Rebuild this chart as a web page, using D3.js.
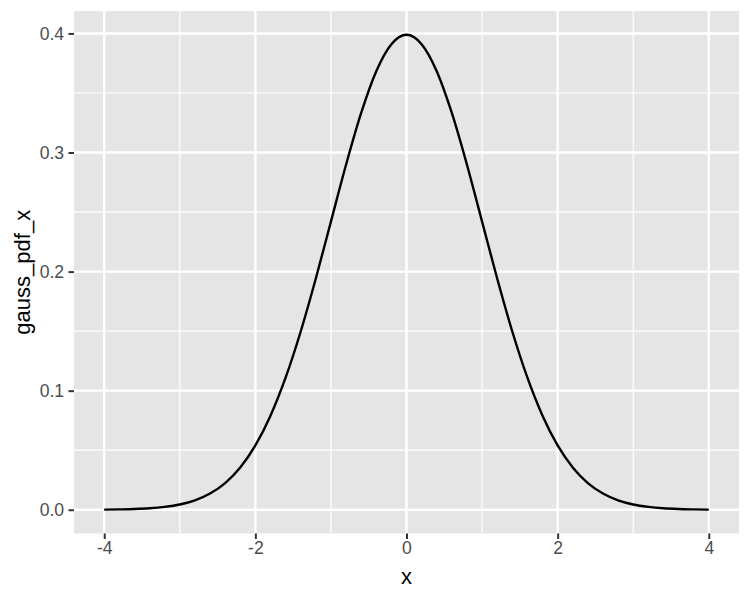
<!DOCTYPE html>
<html>
<head>
<meta charset="utf-8">
<script src="https://cdn.jsdelivr.net/npm/d3@7"></script>
<style>
  body { margin: 0; background: #fff; }
  text { font-family: "Liberation Sans", Arial, Helvetica, sans-serif; }
</style>
</head>
<body>
<svg id="chart"></svg>
<script>
// x positions and density values
const xValues = [-4.0, -3.8, -3.6, -3.4, -3.2, -3.0, -2.8, -2.6, -2.4, -2.2,
  -2.0, -1.8, -1.6, -1.4, -1.2, -1.0, -0.8, -0.6, -0.4, -0.2,
  0.0, 0.2, 0.4, 0.6, 0.8, 1.0, 1.2, 1.4, 1.6, 1.8,
  2.0, 2.2, 2.4, 2.6, 2.8, 3.0, 3.2, 3.4, 3.6, 3.8, 4.0];
const pdfValues = [0.0001, 0.0003, 0.0006, 0.0012, 0.0024, 0.0044, 0.0079, 0.0136, 0.0224, 0.0355,
  0.0540, 0.0790, 0.1109, 0.1497, 0.1942, 0.2420, 0.2897, 0.3332, 0.3683, 0.3910,
  0.3989, 0.3910, 0.3683, 0.3332, 0.2897, 0.2420, 0.1942, 0.1497, 0.1109, 0.0790,
  0.0540, 0.0355, 0.0224, 0.0136, 0.0079, 0.0044, 0.0024, 0.0012, 0.0006, 0.0003, 0.0001];
const xTicks = [-4, -2, 0, 2, 4];
const xMinor = [-3, -1, 1, 3];
const yTicks = [0.0, 0.1, 0.2, 0.3, 0.4];
const yMinor = [0.05, 0.15, 0.25, 0.35];

const data = xValues.map((x, i) => ({ x: x, y: pdfValues[i] }));

const width = 750, height = 600;
const margin = { top: 11, right: 11, bottom: 66.5, left: 74 };
const innerW = width - margin.left - margin.right,
  innerH = height - margin.top - margin.bottom;

const svg = d3.select('#chart').attr('width', width).attr('height', height);

// 5% expansion on both axes, like ggplot
const xExt = d3.extent(xValues), yExt = [0, d3.max(pdfValues)];
const xPad = (xExt[1] - xExt[0]) * 0.05, yPad = (yExt[1] - yExt[0]) * 0.05;
const x = d3.scaleLinear().domain([xExt[0] - xPad, xExt[1] + xPad]).range([margin.left, margin.left + innerW]);
const y = d3.scaleLinear().domain([yExt[0] - yPad, yExt[1] + yPad]).range([margin.top + innerH, margin.top]);

// panel background
svg.append('rect')
  .attr('x', margin.left).attr('y', margin.top)
  .attr('width', innerW).attr('height', innerH)
  .attr('fill', '#E5E5E5');

// grid lines
const grid = svg.append('g');
grid.selectAll('line.xminor').data(xMinor).join('line').attr('class', 'xminor')
  .attr('x1', d => x(d)).attr('x2', d => x(d))
  .attr('y1', margin.top).attr('y2', margin.top + innerH)
  .attr('stroke', '#fff').attr('stroke-width', 1.2);
grid.selectAll('line.yminor').data(yMinor).join('line').attr('class', 'yminor')
  .attr('y1', d => y(d)).attr('y2', d => y(d))
  .attr('x1', margin.left).attr('x2', margin.left + innerW)
  .attr('stroke', '#fff').attr('stroke-width', 1.2);
grid.selectAll('line.xmajor').data(xTicks).join('line').attr('class', 'xmajor')
  .attr('x1', d => x(d)).attr('x2', d => x(d))
  .attr('y1', margin.top).attr('y2', margin.top + innerH)
  .attr('stroke', '#fff').attr('stroke-width', 2.4);
grid.selectAll('line.ymajor').data(yTicks).join('line').attr('class', 'ymajor')
  .attr('y1', d => y(d)).attr('y2', d => y(d))
  .attr('x1', margin.left).attr('x2', margin.left + innerW)
  .attr('stroke', '#fff').attr('stroke-width', 2.4);

// the curve
const line = d3.line().x(d => x(d.x)).y(d => y(d.y)).curve(d3.curveMonotoneX);
svg.append('path').datum(data)
  .attr('d', line)
  .attr('fill', 'none')
  .attr('stroke', '#000')
  .attr('stroke-width', 2.4)
  .attr('stroke-linejoin', 'round');

// axes
const xAxis = svg.append('g')
  .attr('transform', `translate(0,${margin.top + innerH})`)
  .call(d3.axisBottom(x).tickValues(xTicks).tickFormat(d => d < 0 ? '-' + Math.abs(d) : String(d)).tickSize(5.5).tickPadding(3));
const yAxis = svg.append('g')
  .attr('transform', `translate(${margin.left},0)`)
  .call(d3.axisLeft(y).tickValues(yTicks).tickFormat(d3.format('.1f')).tickSize(5.5).tickPadding(4.4));
[xAxis, yAxis].forEach(a => {
  a.attr('font-size', null).attr('font-family', null);
  a.select('.domain').remove();
  a.selectAll('line').attr('stroke', '#333').attr('stroke-width', 2);
  a.selectAll('text').attr('fill', '#4D4D4D').attr('font-size', 17.6);
});

// axis titles
svg.append('text')
  .attr('x', margin.left + innerW / 2).attr('y', 584)
  .attr('text-anchor', 'middle')
  .attr('font-size', 22).attr('fill', '#000')
  .text('x');
svg.append('text')
  .attr('transform', `translate(30,${margin.top + innerH / 2}) rotate(-90)`)
  .attr('text-anchor', 'middle')
  .attr('font-size', 22).attr('fill', '#000')
  .text('gauss_pdf_x');
</script>
</body>
</html>
